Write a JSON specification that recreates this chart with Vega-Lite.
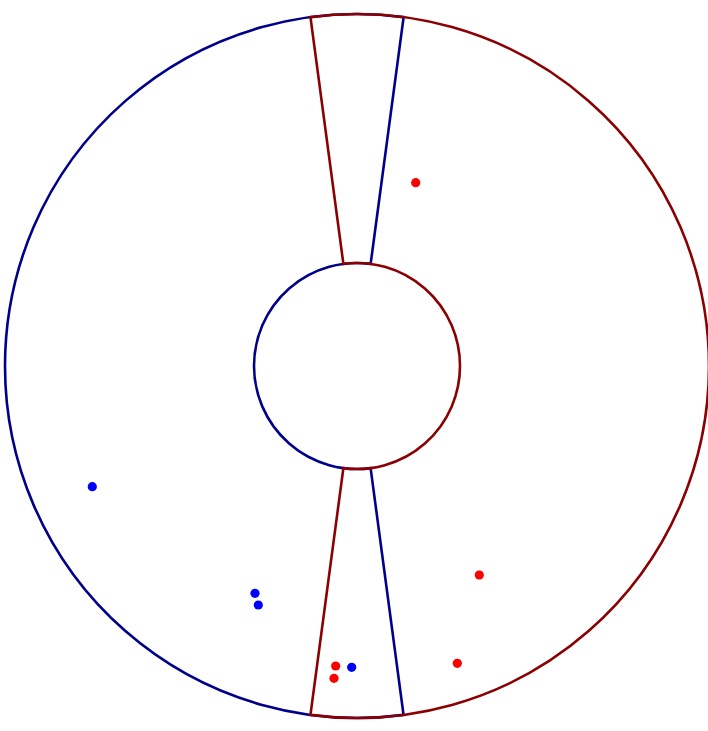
{
  "$schema": "https://vega.github.io/schema/vega-lite/v6.json",
  "width": 708,
  "height": 731,
  "autosize": {"type": "none"},
  "padding": 0,
  "background": "white",
  "config": {"view": {"stroke": null}},
  "datasets": {
    "sectors": [
      {"side": "left", "cx": 0, "cy": -1, "start": 3.009, "end": 6.416},
      {"side": "right", "cx": 0, "cy": -1, "start": -0.1326, "end": 3.2742}
    ],
    "points": [
      {"x": 58.7, "y": 182.3, "group": "red"},
      {"x": 122.3, "y": -210, "group": "red"},
      {"x": 100.3, "y": -298.3, "group": "red"},
      {"x": -21.3, "y": -301, "group": "red"},
      {"x": -23, "y": -313.3, "group": "red"},
      {"x": -264.7, "y": -121.7, "group": "blue"},
      {"x": -102, "y": -228.3, "group": "blue"},
      {"x": -98.7, "y": -240, "group": "blue"},
      {"x": -5.3, "y": -302.3, "group": "blue"}
    ]
  },
  "layer": [
    {
      "data": {"name": "sectors"},
      "mark": {"type": "arc", "filled": false, "radius": 352, "radius2": 103, "strokeWidth": 2.6},
      "encoding": {
        "x": {"field": "cx", "type": "quantitative", "scale": {"domain": [-357, 351], "nice": false, "zero": false}, "axis": null},
        "y": {"field": "cy", "type": "quantitative", "scale": {"domain": [-366, 365], "nice": false, "zero": false}, "axis": null},
        "theta": {"field": "start", "type": "quantitative", "scale": null, "stack": null},
        "theta2": {"field": "end"},
        "stroke": {"field": "side", "type": "nominal", "scale": {"domain": ["left", "right"], "range": ["#00008b", "#8b0000"]}, "legend": null}
      }
    },
    {
      "data": {"name": "points"},
      "mark": {"type": "circle", "size": 85, "opacity": 1},
      "encoding": {
        "x": {"field": "x", "type": "quantitative"},
        "y": {"field": "y", "type": "quantitative"},
        "color": {"field": "group", "type": "nominal", "scale": {"domain": ["blue", "red"], "range": ["#0000ff", "#ff0000"]}, "legend": null}
      }
    }
  ]
}
